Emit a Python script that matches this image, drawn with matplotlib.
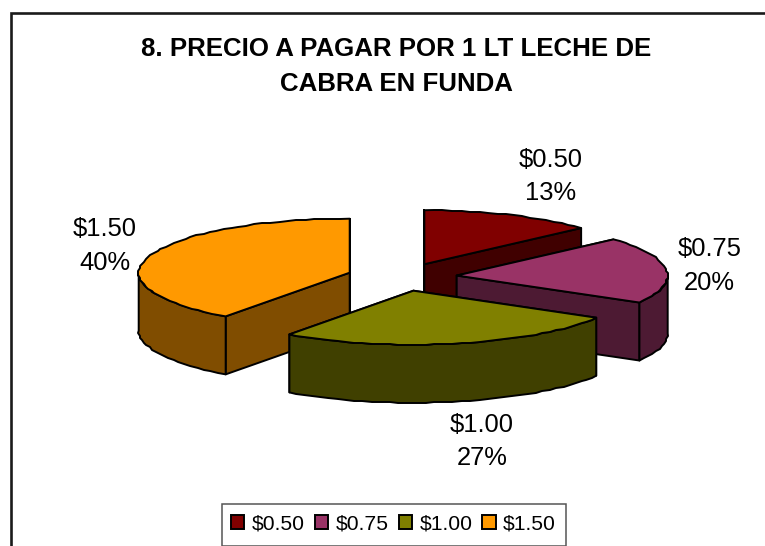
import numpy as np
import matplotlib
matplotlib.use("Agg")
import matplotlib.pyplot as plt
from matplotlib.patches import Polygon, Patch, Rectangle

plt.rcParams['font.family'] = ['Liberation Sans', 'DejaVu Sans']

title = "8. PRECIO A PAGAR POR 1 LT LECHE DE\nCABRA EN FUNDA"
categories = ["$0.50", "$0.75", "$1.00", "$1.50"]
values = [13.33, 20, 26.67, 40]
colors = ["#800000", "#993366", "#808000", "#FF9900"]
wall_colors = ["#400000", "#4D1A33", "#404000", "#804D00"]
draw_order = [0, 3, 1, 2]  # back to front

# label centres in pixels
label_pos = [(550.5, 176.5), (709.5, 266), (482, 441.5), (105, 246)]

# pie geometry, pixels
cx, cy = 402, 277
rx, ry = 211, 54
depth = 58
explode_x, explode_y = 55, 14

fig = plt.figure(figsize=(7.65, 5.46), dpi=100)
ax = fig.add_axes([0, 0, 1, 1])
ax.set_xlim(0, 765)
ax.set_ylim(546, 0)
ax.axis('off')

# chart frame, runs off the right and bottom of the picture
ax.plot([11.5, 11.5, 765], [546, 13, 13], color="#1a1a1a", lw=1.9, solid_joinstyle='miter')

fracs = np.array(values) / sum(values)
edges = np.concatenate([[0], np.cumsum(fracs)]) * 2 * np.pi


def arc(a0, a1, ox, oy):
    # angles clockwise from the top, vertices snapped so the edge is stepped like the original
    n = max(int((a1 - a0) * 24), 2)
    t = np.linspace(a0, a1, n)
    x = np.round((ox + rx * np.sin(t)) / 2) * 2
    y = np.round(oy - ry * np.cos(t))
    x[0], x[-1] = ox + rx * np.sin(a0), ox + rx * np.sin(a1)
    y[0], y[-1] = oy - ry * np.cos(a0), oy - ry * np.cos(a1)
    return np.column_stack([x, y])


def poly(pts, color, z):
    ax.add_patch(Polygon(pts, closed=True, facecolor=color, edgecolor="black", lw=1.4,
                         joinstyle='round', zorder=z))


z = 2
for i in draw_order:
    a0, a1 = edges[i], edges[i + 1]
    mid = (a0 + a1) / 2
    ox = cx + explode_x * np.sin(mid)
    oy = cy - explode_y * np.cos(mid)
    apex = np.array([ox, oy])
    down = np.array([0, depth])

    # cut faces
    for a in (a0, a1):
        p = np.array([ox + rx * np.sin(a), oy - ry * np.cos(a)])
        poly([apex, p, p + down, apex + down], wall_colors[i], z)

    # outer wall, only the part that faces the viewer
    w0, w1 = max(a0, np.pi / 2), min(a1, 3 * np.pi / 2)
    if w1 > w0:
        top_edge = arc(w0, w1, ox, oy)
        poly(np.vstack([top_edge, top_edge[::-1] + down]), wall_colors[i], z)

    # top face
    poly(np.vstack([apex, arc(a0, a1, ox, oy)]), colors[i], z)
    z += 1

ax.text(396.5, 66.5, title, ha='center', va='center', fontsize=18.6, fontweight='bold',
        linespacing=1.54, color="black")

for name, v, pos in zip(categories, values, label_pos):
    ax.text(pos[0], pos[1], f"{name}\n{round(v)}%", ha='center', va='center', fontsize=18.4,
            linespacing=1.5, color="black", zorder=10)

# legend box is bigger than the entries need, so it gets its own rectangle
ax.add_patch(Rectangle((222.5, 503.5), 343.5, 42, facecolor="white", edgecolor="#555555",
                       lw=1.1, zorder=11))
handles = [Patch(facecolor=c, edgecolor="black", lw=1.4) for c in colors]
leg = ax.legend(handles, categories, ncol=4, loc='center', bbox_to_anchor=(393.5, 524),
                bbox_transform=ax.transData, fontsize=15.2, frameon=False,
                handlelength=0.62, handleheight=0.65,
                handletextpad=0.36, columnspacing=0.48, borderpad=0, borderaxespad=0)
leg.set_zorder(12)

fig.savefig("out.png", dpi=100)
